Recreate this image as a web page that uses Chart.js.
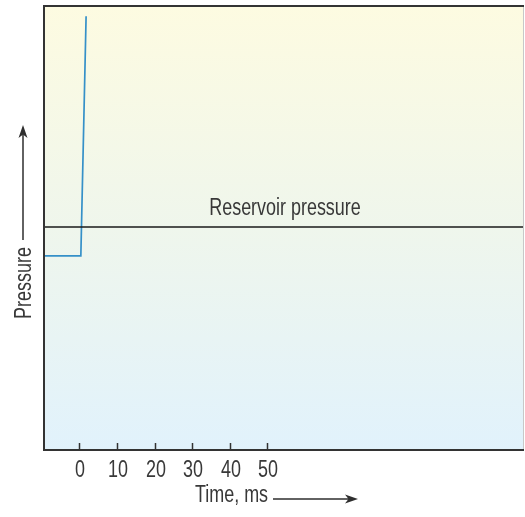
<!DOCTYPE html>
<html>
<head>
<meta charset="utf-8">
<script src="https://cdn.jsdelivr.net/npm/chart.js@4"></script>
<style>
  html, body { margin: 0; padding: 0; background: #fff; }
  #wrap { width: 525px; height: 517px; }
</style>
</head>
<body>
<div id="wrap"><canvas id="chart" width="525" height="517"></canvas></div>
<script>
// data
const timeMs = [-9.4, 0.4, 1.8];
const pressure = [43.7, 43.7, 97.7];
const reservoirPressure = 50.2;
const timeTicks = [0, 10, 20, 30, 40, 50];
const xRange = [-9.4, 118.3];
const yRange = [0, 100];

const FONT = "23px 'Liberation Sans', Arial, sans-serif";
const TEXT = '#383838';
const SQUEEZE = 0.78;   // the original uses a condensed face

// draw text squeezed horizontally, anchored at (x, y) on the baseline
function narrowText(ctx, str, x, y, align) {
  ctx.save();
  ctx.font = FONT;
  ctx.textBaseline = 'alphabetic';
  ctx.textAlign = align || 'left';
  ctx.translate(x, y);
  ctx.scale(SQUEEZE, 1);
  ctx.fillText(str, 0, 0);
  ctx.restore();
}

function arrow(ctx, x1, y1, x2, y2) {
  const ang = Math.atan2(y2 - y1, x2 - x1);
  ctx.save();
  ctx.strokeStyle = '#2e2e2e';
  ctx.fillStyle = '#2e2e2e';
  ctx.lineWidth = 1.5;
  ctx.beginPath();
  ctx.moveTo(x1, y1);
  ctx.lineTo(x2 - 8 * Math.cos(ang), y2 - 8 * Math.sin(ang));
  ctx.stroke();
  ctx.translate(x2, y2);
  ctx.rotate(ang);
  ctx.beginPath();
  ctx.moveTo(0, 0);
  ctx.lineTo(-13, -4.5);
  ctx.lineTo(-9.5, 0);
  ctx.lineTo(-13, 4.5);
  ctx.closePath();
  ctx.fill();
  ctx.restore();
}

const frame = {
  id: 'frame',
  beforeDraw(chart) {
    const {ctx, chartArea: a} = chart;
    const g = ctx.createLinearGradient(0, a.top, 0, a.bottom);
    g.addColorStop(0, '#fdfbe1');
    g.addColorStop(0.5, '#eff6ec');
    g.addColorStop(1, '#e1f2fc');
    ctx.save();
    ctx.fillStyle = g;
    ctx.fillRect(a.left, a.top, a.right - a.left, a.bottom - a.top);
    ctx.restore();
  },
  afterDraw(chart) {
    const {ctx, chartArea: a} = chart;
    const x = chart.scales.x;
    const y = chart.scales.y;
    ctx.save();
    // frame
    ctx.strokeStyle = '#c8c8c8';
    ctx.lineWidth = 1;
    ctx.beginPath();
    ctx.moveTo(a.right - 0.5, a.top);
    ctx.lineTo(a.right - 0.5, a.bottom);
    ctx.stroke();
    ctx.strokeStyle = '#333';
    ctx.lineWidth = 2;
    ctx.beginPath();
    ctx.moveTo(a.right, a.top);
    ctx.lineTo(a.left, a.top);
    ctx.lineTo(a.left, a.bottom);
    ctx.lineTo(a.right, a.bottom);
    ctx.stroke();
    // inward tick marks and their labels
    ctx.lineWidth = 1.5;
    ctx.fillStyle = TEXT;
    x.ticks.forEach(t => {
      const px = Math.round(x.getPixelForValue(t.value)) + 0.5;
      ctx.beginPath();
      ctx.moveTo(px, a.bottom);
      ctx.lineTo(px, a.bottom - 7);
      ctx.stroke();
      narrowText(ctx, String(t.value), px + 0.5, 477, 'center');
    });
    // texts
    const ry = y.getPixelForValue(reservoirPressure);
    narrowText(ctx, 'Reservoir pressure', 285, ry - 11.7, 'center');

    narrowText(ctx, 'Time, ms', 195, 502, 'left');
    arrow(ctx, 273, 499, 358, 499);

    ctx.save();
    ctx.translate(31, 283);
    ctx.rotate(-Math.PI / 2);
    narrowText(ctx, 'Pressure', 0, 0, 'center');
    ctx.restore();
    arrow(ctx, 23, 240, 23, 125);
    ctx.restore();
  }
};

new Chart(document.getElementById('chart'), {
  type: 'scatter',
  data: {
    datasets: [
      {
        label: 'Reservoir pressure',
        data: xRange.map(t => ({x: t, y: reservoirPressure})),
        showLine: true,
        borderColor: '#1a1a1a',
        borderWidth: 1.5,
        pointRadius: 0
      },
      {
        label: 'Pressure',
        data: timeMs.map((t, i) => ({x: t, y: pressure[i]})),
        showLine: true,
        borderColor: '#3590c8',
        borderWidth: 1.7,
        pointRadius: 0
      }
    ]
  },
  options: {
    responsive: false,
    animation: false,
    layout: {padding: {top: 6, right: 1, left: 0, bottom: 0}},
    plugins: {legend: {display: false}, tooltip: {enabled: false}},
    scales: {
      x: {
        type: 'linear',
        min: xRange[0],
        max: xRange[1],
        afterBuildTicks: s => { s.ticks = timeTicks.map(v => ({value: v})); },
        afterFit: s => { s.height = 67; },
        grid: {display: false, drawTicks: false},
        border: {display: false},
        ticks: {display: false}
      },
      y: {
        min: yRange[0],
        max: yRange[1],
        afterFit: s => { s.width = 44; },
        grid: {display: false, drawTicks: false},
        border: {display: false},
        ticks: {display: false}
      }
    }
  },
  plugins: [frame]
});
</script>
</body>
</html>
